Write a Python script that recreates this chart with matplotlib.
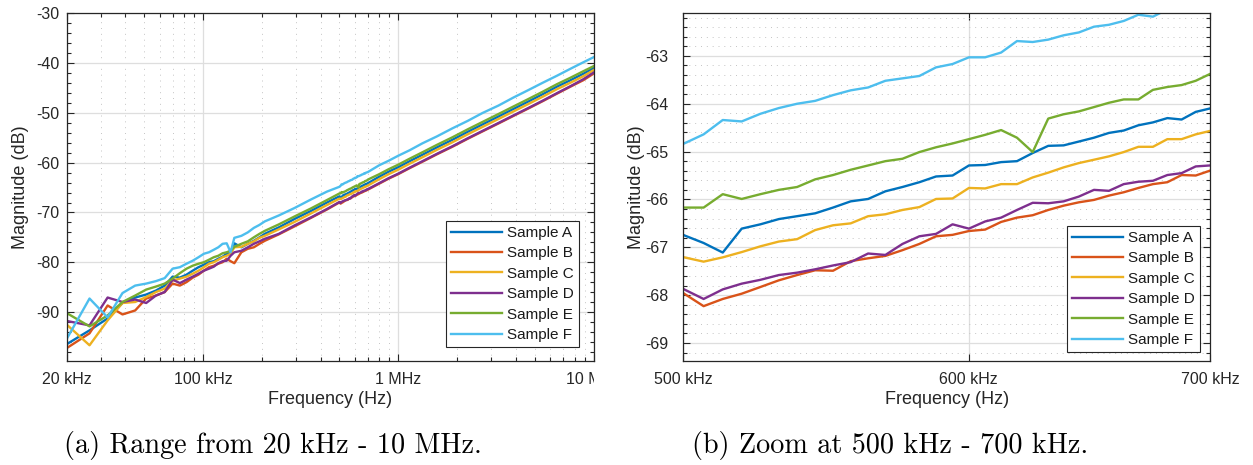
import numpy as np
import matplotlib
matplotlib.use("Agg")
import matplotlib.pyplot as plt
from matplotlib.ticker import FixedLocator, NullLocator, MultipleLocator, LogLocator, NullFormatter
from matplotlib.transforms import Bbox, TransformedBbox

plt.rcParams["font.family"] = ["Liberation Sans", "DejaVu Sans"]
plt.rcParams["axes.unicode_minus"] = False

# ---------------- data ----------------
labels = ["Sample A", "Sample B", "Sample C", "Sample D", "Sample E", "Sample F"]
colors = ["#0072BD", "#D95319", "#EDB120", "#7E2F8E", "#77AC30", "#4DBEEE"]

# wide sweep (kHz), outside the 500-700 kHz window
freq_wide_khz = [20.00, 26.24, 32.48, 38.71, 44.95, 51.19, 57.43, 63.66, 69.90, 76.14,
                 82.38, 88.61, 94.85, 101.09, 107.33, 113.56, 119.80, 126.04, 132.28, 138.51,
                 144.75, 157.23, 169.70, 182.18, 194.65, 207.13,
                 244.55, 294.45, 356.83, 431.68,
                 799.69, 893.25, 999.29, 1142.75, 1329.88, 1579.38, 1891.25, 2265.50, 2702.13,
                 3263.50, 3887.25, 4635.75, 5509.00, 6507.00, 7629.75, 8877.25, 10000.00]

mag_a_wide = [-96.5, -93.7, -91.3, -88.2, -87.1, -86.5, -85.7, -84.7, -82.9, -83.1, -82.5, -81.7, -81.0,
              -80.5, -80.0, -79.8, -79.3, -78.9, -78.3, -78.2, -76.2, -77.0, -76.3, -75.7, -75.0, -74.3,
              -73.0, -71.3, -69.7, -68.0,
              -62.8, -61.8, -60.9, -59.7, -58.4, -56.9, -55.4, -53.8, -52.3, -50.7, -49.2, -47.7, -46.2,
              -44.7, -43.4, -42.1, -41.0]
mag_b_wide = [-97.3, -94.3, -88.7, -90.5, -89.7, -87.3, -86.7, -86.0, -84.3, -84.7, -84.0, -83.1, -82.5,
              -81.7, -81.0, -80.7, -80.3, -80.0, -79.3, -79.8, -80.2, -78.0, -77.3, -77.0, -76.3, -75.7,
              -74.4, -72.8, -71.1, -69.4,
              -64.2, -63.2, -62.3, -61.1, -59.8, -58.3, -56.8, -55.2, -53.7, -52.1, -50.6, -49.1, -47.6,
              -46.1, -44.7, -43.4, -42.1]
mag_c_wide = [-92.5, -96.7, -91.7, -88.2, -88.0, -87.0, -86.0, -85.3, -83.7, -83.3, -82.9, -82.3, -81.7,
              -81.0, -80.3, -80.0, -79.5, -79.0, -78.7, -78.3, -77.0, -76.9, -76.3, -75.8, -75.1, -74.7,
              -73.4, -71.9, -70.2, -68.5,
              -63.3, -62.3, -61.4, -60.2, -58.9, -57.4, -55.9, -54.3, -52.8, -51.2, -49.7, -48.2, -46.7,
              -45.2, -43.9, -42.6, -41.4]
mag_d_wide = [-91.8, -92.7, -87.1, -88.0, -87.5, -88.2, -86.7, -86.0, -83.5, -84.2, -83.5, -82.9, -82.3,
              -81.7, -81.3, -80.9, -80.2, -79.8, -79.7, -78.7, -78.0, -77.7, -77.0, -76.3, -75.8, -75.3,
              -74.3, -72.6, -71.0, -69.3,
              -64.1, -63.1, -62.2, -61.0, -59.7, -58.2, -56.7, -55.1, -53.6, -52.0, -50.5, -49.0, -47.5,
              -46.0, -44.6, -43.2, -41.9]
mag_e_wide = [-90.2, -92.9, -90.7, -88.0, -86.7, -85.5, -84.9, -84.3, -83.3, -82.2, -81.3, -80.7, -80.3,
              -80.0, -79.5, -79.0, -78.7, -78.2, -78.0, -77.7, -76.9, -76.3, -75.8, -75.0, -74.3, -73.7,
              -72.4, -70.8, -69.2, -67.5,
              -62.3, -61.3, -60.4, -59.2, -57.9, -56.4, -54.9, -53.3, -51.8, -50.2, -48.7, -47.2, -45.7,
              -44.2, -42.9, -41.6, -40.6]
mag_f_wide = [-95.5, -87.3, -91.1, -86.2, -84.7, -84.3, -83.8, -83.2, -81.3, -81.0, -80.3, -79.7, -79.0,
              -78.3, -78.0, -77.5, -77.0, -76.3, -76.2, -78.0, -75.1, -74.7, -74.0, -73.1, -72.5, -71.8,
              -70.6, -69.1, -67.4, -65.8,
              -60.5, -59.6, -58.6, -57.5, -56.1, -54.7, -53.1, -51.6, -50.0, -48.5, -46.9, -45.4, -43.9,
              -42.5, -41.1, -39.8, -38.8]

# 500-700 kHz window (kHz)
freq_zoom_khz = [500.29, 506.53, 512.76, 519.00, 525.24, 531.48, 537.71, 543.95, 550.19, 556.43,
                 562.66, 568.90, 575.14, 581.38, 587.61, 593.85, 600.09, 606.33, 612.56, 618.80,
                 625.04, 631.28, 637.51, 643.75, 649.99, 656.23, 662.46, 668.70, 674.94, 681.18,
                 687.41, 693.65, 699.89]

mag_a_zoom = [-66.75, -66.91, -67.11, -66.61, -66.52, -66.41, -66.35, -66.29, -66.17, -66.04, -65.99,
              -65.83, -65.74, -65.64, -65.52, -65.50, -65.29, -65.28, -65.22, -65.20, -65.03, -64.88,
              -64.87, -64.79, -64.71, -64.61, -64.56, -64.45, -64.39, -64.30, -64.33, -64.17, -64.10]
mag_b_zoom = [-67.97, -68.23, -68.08, -67.97, -67.83, -67.69, -67.58, -67.48, -67.49, -67.29, -67.23,
              -67.18, -67.06, -66.93, -66.77, -66.74, -66.66, -66.63, -66.47, -66.38, -66.33, -66.22,
              -66.13, -66.06, -66.01, -65.92, -65.85, -65.76, -65.68, -65.64, -65.49, -65.50, -65.40]
mag_c_zoom = [-67.21, -67.30, -67.21, -67.10, -66.98, -66.88, -66.83, -66.64, -66.54, -66.50, -66.35,
              -66.31, -66.22, -66.16, -65.99, -65.98, -65.76, -65.77, -65.68, -65.68, -65.54, -65.44,
              -65.33, -65.24, -65.17, -65.10, -65.01, -64.90, -64.90, -64.74, -64.74, -64.64, -64.57]
mag_d_zoom = [-67.88, -68.08, -67.88, -67.76, -67.68, -67.58, -67.53, -67.46, -67.38, -67.31, -67.13,
              -67.16, -66.93, -66.77, -66.72, -66.52, -66.61, -66.46, -66.38, -66.22, -66.07, -66.08,
              -66.04, -65.94, -65.80, -65.82, -65.68, -65.63, -65.61, -65.49, -65.45, -65.31, -65.29]
mag_e_zoom = [-66.17, -66.17, -65.89, -65.99, -65.89, -65.80, -65.74, -65.58, -65.49, -65.38, -65.29,
              -65.20, -65.15, -65.01, -64.91, -64.83, -64.74, -64.65, -64.55, -64.71, -65.01, -64.31,
              -64.22, -64.16, -64.07, -63.98, -63.91, -63.91, -63.71, -63.65, -63.61, -63.52, -63.38]
mag_f_zoom = [-64.83, -64.64, -64.34, -64.37, -64.21, -64.09, -64.00, -63.94, -63.82, -63.72, -63.66,
              -63.52, -63.47, -63.42, -63.24, -63.17, -63.03, -63.03, -62.93, -62.69, -62.71, -62.66,
              -62.57, -62.51, -62.39, -62.35, -62.27, -62.14, -62.18, -62.03, -61.97, -61.92, -61.86]

wide_tick_hz = [2e4, 1e5, 1e6, 1e7]
wide_tick_labels = ["20 kHz", "100 kHz", "1 MHz", "10 MHz"]
zoom_tick_hz = [5e5, 6e5, 7e5]
zoom_tick_labels = ["500 kHz", "600 kHz", "700 kHz"]
wide_yticks = [-90, -80, -70, -60, -50, -40, -30]
zoom_yticks = [-69, -68, -67, -66, -65, -64, -63]

mag_wide = [mag_a_wide, mag_b_wide, mag_c_wide, mag_d_wide, mag_e_wide, mag_f_wide]
mag_zoom = [mag_a_zoom, mag_b_zoom, mag_c_zoom, mag_d_zoom, mag_e_zoom, mag_f_zoom]

# ---------------- figure ----------------
W, H = 1253, 465
fig = plt.figure(figsize=(W / 100, H / 100), dpi=100)

AX_COLOR = "#262626"
TICK_FS = 11.5
LEGEND_FS = 11
LABEL_FS = 13


def style_axes(ax):
    for sp in ax.spines.values():
        sp.set_color(AX_COLOR)
        sp.set_linewidth(0.9)
    ax.tick_params(which="both", direction="in", top=True, right=True,
                   colors=AX_COLOR, labelsize=TICK_FS, width=0.8)
    ax.tick_params(which="major", length=5)
    ax.tick_params(which="minor", length=3)
    ax.set_axisbelow(True)


def add_legend(ax, anchor):
    leg = ax.legend(loc="lower right", bbox_to_anchor=anchor, fontsize=LEGEND_FS,
                    frameon=True, fancybox=False, framealpha=1, edgecolor=AX_COLOR,
                    handlelength=3.3, handletextpad=0.35, labelspacing=0.42, borderpad=0.35,
                    borderaxespad=0)
    leg.get_frame().set_linewidth(0.8)
    for t in leg.get_texts():
        t.set_color("#1a1a1a")
    return leg


# ---- (a) full range ----
ax1 = fig.add_axes([66.5 / W, 1 - 360.7 / H, 527 / W, 347.2 / H])
f_all = np.array(freq_wide_khz + freq_zoom_khz) * 1e3
order = np.argsort(f_all)
for lab, col, mw, mz in zip(labels, colors, mag_wide, mag_zoom):
    m_all = np.array(mw + mz)
    ax1.plot(f_all[order], m_all[order], color=col, lw=1.7, label=lab)
ax1.set_xscale("log")
ax1.set_xlim(2e4, 1e7)
ax1.set_ylim(-99.8, -30)
ax1.xaxis.set_major_locator(FixedLocator(wide_tick_hz))
ax1.set_xticklabels(wide_tick_labels)
ax1.xaxis.set_minor_locator(LogLocator(base=10, subs=np.arange(2, 10)))
ax1.xaxis.set_minor_formatter(NullFormatter())
ax1.yaxis.set_major_locator(FixedLocator(wide_yticks))
ax1.set_yticklabels([str(v) for v in wide_yticks])
ax1.yaxis.set_minor_locator(MultipleLocator(2))
style_axes(ax1)
ax1.tick_params(axis="x", which="major", pad=8)
ax1.tick_params(axis="y", which="major", pad=5)
ax1.grid(which="major", color="#dedede", lw=0.9, ls="-")
ax1.grid(which="minor", axis="x", color="#c4c4c4", lw=0.7, ls=(0, (1, 5)))
ax1.set_xlabel("Frequency (Hz)", fontsize=LABEL_FS, color=AX_COLOR, labelpad=3)
ax1.set_ylabel("Magnitude (dB)", fontsize=LABEL_FS, color=AX_COLOR, labelpad=5)
add_legend(ax1, (0.973, 0.0386))

# the left panel is cut at its right axis edge
clip = TransformedBbox(Bbox.from_extents(0, 0, 594 / W, 1), fig.transFigure)
for t in ax1.get_xticklabels():
    t.set_clip_box(clip)
    t.set_clip_on(True)

# ---- (b) 500 - 700 kHz ----
ax2 = fig.add_axes([683.3 / W, 1 - 360.7 / H, 526.7 / W, 347.4 / H])
fz = np.array(freq_zoom_khz) * 1e3
for lab, col, mz in zip(labels, colors, mag_zoom):
    ax2.plot(fz, mz, color=col, lw=1.7, label=lab)
ax2.set_xscale("log")
ax2.set_xlim(5e5, 7e5)
ax2.set_ylim(-69.37, -62.11)
ax2.xaxis.set_major_locator(FixedLocator(zoom_tick_hz))
ax2.set_xticklabels(zoom_tick_labels)
ax2.xaxis.set_minor_locator(NullLocator())
ax2.yaxis.set_major_locator(FixedLocator(zoom_yticks))
ax2.set_yticklabels([str(v) for v in zoom_yticks])
ax2.yaxis.set_minor_locator(MultipleLocator(0.2))
style_axes(ax2)
ax2.tick_params(axis="x", which="major", pad=8)
ax2.tick_params(axis="y", which="major", pad=11)
ax2.grid(which="major", color="#dedede", lw=0.9, ls="-")
ax2.grid(which="minor", axis="y", color="#c4c4c4", lw=0.7, ls=(0, (1, 5)))
ax2.set_xlabel("Frequency (Hz)", fontsize=LABEL_FS, color=AX_COLOR, labelpad=3)
ax2.set_ylabel("Magnitude (dB)", fontsize=LABEL_FS, color=AX_COLOR, labelpad=0)
add_legend(ax2, (0.981, 0.0242))

# ---- sub-captions ----
cap_kw = dict(family="cmr10", fontsize=20.3, va="baseline", ha="left", color="black")
fig.text(64 / W, 1 - 453 / H, "(a) Range from 20 kHz - 10 MHz.", **cap_kw)
fig.text(692 / W, 1 - 453 / H, "(b) Zoom at 500 kHz - 700 kHz.", **cap_kw)

fig.savefig("out.png", dpi=100)
